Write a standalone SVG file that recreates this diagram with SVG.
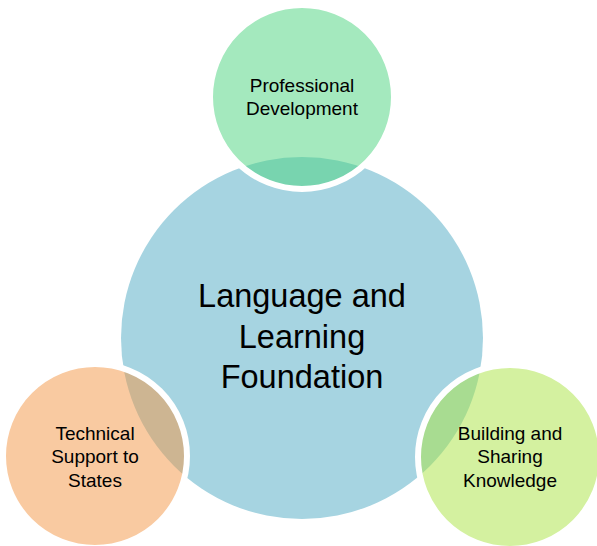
<svg xmlns="http://www.w3.org/2000/svg" width="597" height="546" viewBox="0 0 597 546">
<style>
.sat{stroke:#fff;stroke-width:6;fill-opacity:0.5}
.t{font-family:"Liberation Sans",Arial,sans-serif;fill:#000;text-anchor:middle}
.s{font-size:19px}
.b{font-size:32.5px}
</style>
<rect width="597" height="546" fill="#fff"/>
<g id="connectors"></g>
<g id="center">
<circle cx="302" cy="338" r="181" fill="#A6D4E1"/>
<text class="t b" x="302" y="307">Language and</text>
<text class="t b" x="302" y="348">Learning</text>
<text class="t b" x="302" y="388">Foundation</text>
</g>
<g id="professional-development">
<circle class="sat" cx="302" cy="97" r="92" fill="#49D37D"/>
<text class="t s" x="302" y="92">Professional</text>
<text class="t s" x="302" y="115">Development</text>
</g>
<g id="technical-support">
<circle class="sat" cx="95" cy="456" r="92" fill="#F39543"/>
<text class="t s" x="95" y="440">Technical</text>
<text class="t s" x="95" y="463">Support to</text>
<text class="t s" x="95" y="487">States</text>
</g>
<g id="building-sharing">
<circle class="sat" cx="510" cy="457" r="92" fill="#A9E341"/>
<text class="t s" x="510" y="440">Building and</text>
<text class="t s" x="510" y="463">Sharing</text>
<text class="t s" x="510" y="487">Knowledge</text>
</g>
</svg>
